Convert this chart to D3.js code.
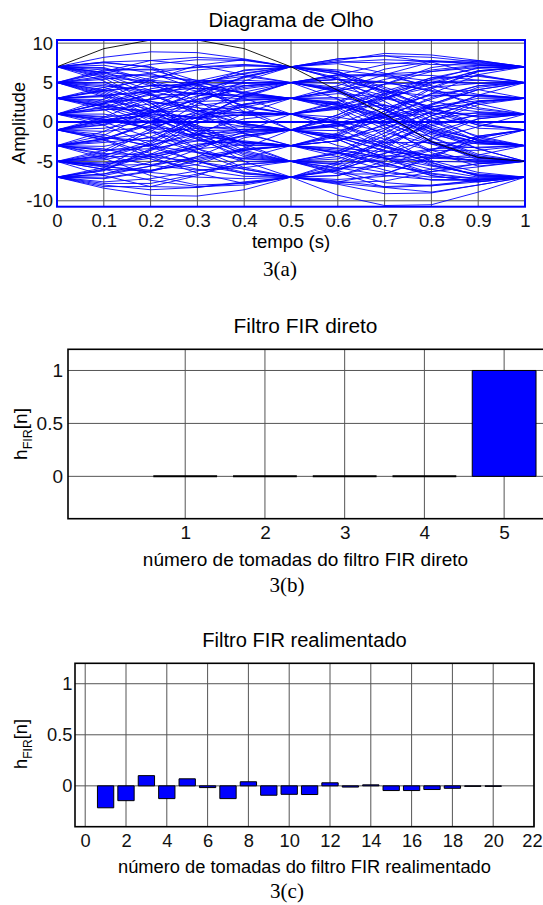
<!DOCTYPE html>
<html>
	<head>
		<title>Diagrama de Olho e Filtros FIR</title>
		<meta http-equiv='Content-Type' content='text/html;charset=utf-8'/>
		<style>
		body {
			margin: 0;
			background: #ffffff;
		}
		svg {
			display: block;
			font-family: 'Liberation Sans', Arial, sans-serif;
			color: #111111;
		}
		.grid line {
			stroke: #555555;
			stroke-width: 1px;
		}
		.caption {
			font-family: 'Liberation Serif', 'Times New Roman', serif;
		}
		</style>
	</head>

	<body>
	<script src='https://d3js.org/d3.v7.min.js'></script>

	<script>
	'use strict';

	// 3(a) eye diagram: amplitude sampled at t = 0, 0.1, ..., 1 s
	const eyeTimes = [0, 0.1, 0.2, 0.3, 0.4, 0.5, 0.6, 0.7, 0.8, 0.9, 1];
	const eyeTraces = [
		[7, 5.8, 3.5, 1.0, -1.5, -3, -2.4, -0.8, 1.2, 3.4, 5],
		[5, 5.6, 5.2, 3.9, 2.1, 1, -0.2, -2.6, -4.9, -6.4, -7],
		[-7, -6.1, -3.4, 0.2, 3.3, 5, 5.9, 6.1, 6.4, 6.9, 7],
		[3, 1.6, -1.2, -3.9, -6.0, -7, -7.8, -8.3, -8.1, -7.6, -7],
		[-1, -0.4, 1.1, 2.9, 4.2, 5, 4.1, 1.5, -1.3, -3.4, -5],
		[1, 1.9, 3.6, 5.2, 6.5, 7, 6.4, 4.2, 1.6, -0.4, -1],
		[-5, -5.4, -4.1, -1.6, 1.1, 3, 3.6, 3.1, 2.0, 1.3, 1],
		[-3, -4.2, -5.5, -6.1, -5.8, -5, -3.8, -1.0, 2.1, 4.1, 5],
		[7, 7.6, 7.8, 7.2, 6.0, 5, 3.9, 1.6, -1.0, -2.6, -3],
		[-7, -8.0, -8.6, -8.3, -7.6, -7, -5.8, -3.1, 0.0, 2.2, 3],
		[5, 3.6, 0.8, -2.2, -4.4, -5, -5.3, -4.8, -3.5, -1.8, -1],
		[-5, -3.9, -1.2, 2.3, 5.2, 7, 7.6, 7.5, 7.3, 7.2, 7],
		[1, 0.3, -0.8, -1.7, -2.5, -3, -3.6, -4.5, -5.6, -6.6, -7],
		[3, 3.9, 4.6, 4.6, 3.7, 3, 1.6, -1.8, -5.1, -6.9, -7],
		[-1, -2.2, -4.0, -5.5, -6.5, -7, -6.1, -3.4, 0.1, 2.6, 3],
		[7, 6.0, 4.0, 2.4, 1.3, 1, 1.7, 3.1, 4.4, 4.9, 5],
		[-3, -1.7, 1.1, 3.9, 5.7, 7, 8.0, 8.4, 8.2, 7.6, 7],
		[5, 4.4, 2.4, -0.6, -3.1, -5, -5.9, -5.6, -4.2, -2.5, -1],
		[-7, -6.6, -5.1, -3.0, -1.7, -1, 0.4, 2.8, 5.0, 6.5, 7],
		[1, 1.8, 2.9, 3.6, 3.4, 3, 3.1, 2.2, 0.1, -1.8, -3],
		[-5, -6.0, -7.4, -8.2, -8.0, -7, -5.1, -2.2, 0.4, 1.2, 1],
		[3, 2.2, 1.0, 0.6, 0.9, 1, -0.3, -2.9, -5.4, -6.8, -7],
		[-1, 0.1, 1.8, 3.3, 4.6, 5, 5.7, 6.0, 5.9, 5.3, 5],
		[7, 6.8, 5.0, 1.9, -1.4, -3, -3.9, -4.6, -5.0, -5.1, -5],
		[-3, -3.6, -3.4, -2.4, -1.4, -1, -0.2, 0.6, 1.1, 1.1, 1],
		[5, 6.2, 7.3, 7.9, 7.8, 7, 5.6, 2.6, -0.4, -2.4, -3],
		[-7, -7.2, -6.3, -4.8, -3.5, -3, -1.9, 0.6, 3.1, 4.6, 5],
		[1, -0.4, -2.9, -5.0, -6.6, -7, -7.3, -6.9, -6.0, -5.3, -5],
		[-5, -4.3, -2.4, 0.3, 2.3, 3, 2.9, 0.6, -2.4, -4.4, -5],
		[3, 4.1, 5.6, 6.6, 7.1, 7, 7.8, 8.7, 8.5, 7.8, 7],
		[-1, -2.3, -4.4, -6.5, -7.8, -7, -7.5, -8.2, -8.0, -7.4, -7],
		[-7, -8.4, -9.3, -9.4, -8.6, -7, -6.2, -4.0, -1.3, 0.4, 1],
		[7, 8.2, 8.9, 8.8, 8.0, 7, 5.4, 1.8, -2.0, -4.3, -5],
		[5, 3.4, 0.6, -1.6, -2.6, -3, -2.4, -0.3, 2.2, 4.4, 5],
		[-3, -2.1, -0.4, 0.9, 1.2, 1, 2.0, 3.9, 5.6, 6.8, 7],
		[1, 2.4, 4.2, 5.2, 5.3, 5, 4.0, 1.6, -0.7, -2.3, -3],
		[-5, -4.2, -2.9, -1.6, -0.9, -1, -1.9, -3.7, -5.5, -6.7, -7],
		[3, 1.9, -0.2, -2.2, -3.0, -3, -3.9, -5.6, -6.3, -5.7, -5],
		[7, 6.3, 5.8, 5.3, 5.0, 5, 5.4, 5.1, 3.9, 2.3, 1],
		[-1, -0.3, 1.8, 4.6, 6.6, 7, 6.1, 3.5, 0.1, -2.4, -3],
		[5, 4.8, 3.4, 1.4, -0.2, -1, -0.2, 1.8, 3.4, 3.4, 3],
		[-7, -6.0, -4.2, -2.8, -2.4, -3, -4.4, -6.1, -7.4, -7.4, -7],
		[3, 2.8, 1.6, -0.9, -3.6, -5, -4.7, -2.8, -0.5, 0.9, 1],
		[-3, -3.1, -1.9, 0.6, 3.1, 5, 6.0, 5.8, 4.6, 3.5, 3],
		[1, 0.2, 0.1, 0.5, 0.9, 1, 2.4, 4.8, 6.9, 7.7, 7],
		[-5, -5.7, -6.1, -5.4, -3.3, -1, 0.9, 3.4, 5.4, 5.9, 5],
		[7, 6.6, 6.6, 6.9, 7.2, 7, 6.1, 3.7, 0.9, -0.8, -1],
		[-1, -1.9, -3.0, -3.9, -4.6, -5, -6.4, -8.3, -8.9, -8.0, -7],
		[5, 5.0, 3.6, 1.4, -0.4, -1, -2.2, -4.6, -6.5, -7.2, -7],
		[-3, -4.6, -6.8, -8.0, -7.8, -7, -5.4, -2.4, 0.8, 2.6, 3],
		[1, 2.9, 5.3, 7.2, 7.9, 7, 5.4, 3.9, 3.3, 3.4, 3],
		[-5, -5.5, -5.4, -4.6, -3.6, -3, -3.3, -3.8, -4.2, -4.6, -5],
		[3, 4.4, 5.3, 4.8, 3.0, 1, -0.9, -3.2, -5.2, -6.8, -7],
		[-7, -6.2, -3.6, -0.2, 2.2, 3, 2.1, -0.3, -2.8, -4.5, -5],
		[7, 5.6, 2.4, -1.4, -4.2, -5, -4.4, -2.6, -0.3, 0.9, 1],
		[-1, 0.2, 0.9, 0.6, -0.2, -1, -1.1, 0.2, 2.3, 4.1, 5],
		[5, 6.4, 7.8, 8.2, 7.9, 7, 7.6, 7.9, 7.7, 7.3, 7],
		[-3, -1.2, 1.5, 3.8, 4.9, 5, 3.8, 0.9, -2.5, -4.8, -5],
		[1, 0.7, -1.0, -3.4, -5.0, -5, -4.0, -1.4, 1.4, 3.3, 3],
		[-5, -6.8, -8.2, -8.3, -7.7, -7, -7.9, -9.1, -9.0, -8.0, -7],
		[5, 4.0, 1.6, -1.8, -5.0, -7, -7.6, -6.6, -4.4, -2.0, -1],
		[-3, -2.6, -2.0, -1.5, -1.2, -1, 0.9, 3.6, 5.6, 5.8, 5],
		[3, 3.4, 3.9, 4.9, 6.1, 7, 6.3, 3.9, 1.6, 0.6, 1],
		[-1, -0.8, 0.1, 1.1, 1.2, 1, -0.2, -2.2, -3.6, -3.6, -3],
		[7, 7.2, 6.2, 4.2, 2.0, 1, 0.1, -1.3, -2.8, -3.3, -3],
		[-7, -7.8, -7.8, -6.6, -5.3, -5, -4.0, -1.8, 0.8, 2.6, 3],
		[1, 1.5, 2.3, 2.6, 2.8, 3, 4.1, 6.0, 7.6, 7.8, 7],
		[-5, -3.6, -0.9, 1.4, 1.9, 1, 0.6, -0.3, -1.9, -4.1, -5],
		[-5, -5.6, -6.4, -7.0, -7.2, -7, -9.3, -10.6, -10.5, -8.9, -7],
		[7, 6.2, 4.6, 3.4, 2.9, 3, 2.2, 0.4, -1.6, -2.8, -3],
		[-7, -6.8, -5.6, -3.5, -1.2, 1, 2.6, 4.8, 6.4, 7.1, 7],
		[5, 4.1, 2.6, 1.4, 0.8, 1, 1.8, 2.1, 1.2, -0.4, -1],
		[-3, -3.4, -4.7, -6.0, -6.9, -7, -6.0, -4.4, -3.4, -3.2, -3],
		[3, 2.4, 0.6, -1.6, -3.8, -5, -6.2, -7.7, -8.1, -7.4, -7],
		[-1, -0.1, 1.2, 2.1, 2.7, 3, 4.6, 6.7, 7.7, 7.4, 7],
		[1, 1.0, 0.0, -2.0, -4.0, -5, -5.1, -4.0, -2.2, -0.6, 1],
		[-5, -4.6, -2.8, 0.3, 3.4, 5, 5.4, 4.0, 1.8, -0.2, -1],
		[7, 7.5, 7.0, 5.2, 3.5, 3, 2.4, 0.9, -0.9, -2.2, -3],
		[-3, -2.2, 0.0, 2.6, 4.6, 5, 4.2, 2.0, -0.9, -3.4, -5],
		[5, 5.8, 6.0, 5.1, 3.6, 3, 3.9, 5.4, 6.6, 7.2, 7],
		[-7, -7.1, -6.2, -4.4, -2.0, -1, -1.6, -3.1, -4.3, -4.9, -5],
		[1, 0.0, -2.0, -3.8, -4.7, -5, -5.8, -6.8, -7.3, -7.3, -7],
		[3, 3.2, 2.6, 1.8, 1.1, 1, 1.9, 3.6, 5.0, 5.3, 5],
		[-1, -1.2, -0.6, 0.6, 1.9, 3, 2.5, 0.6, -1.4, -2.6, -3],
		[-5, -5.2, -4.4, -3.4, -2.9, -3, -2.4, -0.4, 1.9, 3.0, 3],
		[7, 6.9, 5.3, 2.6, -0.3, -1, -0.6, 0.8, 2.9, 4.6, 5],
		[-3, -3.6, -3.0, -1.3, 0.4, 1, 1.6, 3.0, 4.8, 6.5, 7],
		[5, 4.6, 4.0, 3.6, 3.2, 3, 1.8, -0.9, -3.6, -5.2, -5],
		[-7, -5.8, -2.6, 1.2, 3.8, 5, 4.9, 3.3, 0.6, -2.0, -3],
		[1, 2.3, 3.4, 3.6, 3.2, 3, 2.3, 0.1, -2.6, -4.6, -5],
		[3, 4.0, 4.6, 4.8, 4.9, 5, 4.4, 3.0, 1.6, 0.7, 1],
		[-1, -2.0, -2.4, -2.4, -2.7, -3, -4.0, -5.3, -6.6, -7.3, -7],
		[-5, -6.0, -6.2, -5.0, -3.6, -3, -1.7, 1.0, 4.2, 6.4, 7],
		[7, 7.6, 6.9, 4.6, 1.3, -1, -2.0, -3.6, -4.6, -4.8, -5],
		[-3, -2.4, 0.0, 3.2, 5.8, 7, 6.4, 4.4, 2.6, 1.6, 1],
		[1, 1.6, 1.5, 0.4, -0.6, -1, -0.5, 1.1, 3.6, 6.0, 7],
		[5, 3.8, 1.3, -1.2, -2.6, -3, -3.8, -5.2, -6.8, -7.6, -7],
		[-1, 0.6, 3.0, 5.0, 5.8, 5, 2.9, -0.6, -3.9, -5.6, -5],
		[3, 2.0, 0.4, -0.6, -1.0, -1, -0.4, 0.8, 1.9, 2.7, 3],
		[-7, -7.6, -7.2, -6.2, -5.4, -5, -5.4, -6.4, -7.0, -7.1, -7],
		[7, 6.3, 4.8, 4.2, 4.6, 5, 6.0, 7.3, 7.8, 7.5, 7],
		[-5, -4.8, -3.6, -2.0, -1.2, -1, -0.4, 0.6, 1.6, 2.4, 3],
		[1, 0.4, -0.7, -1.1, -1.0, -1, -2.2, -4.6, -6.8, -7.6, -7],
		[-3, -4.0, -4.2, -3.2, -1.8, -1, -1.7, -3.2, -4.4, -5.0, -5],
		[3, 3.3, 3.8, 4.9, 6.2, 7, 8.0, 8.4, 7.6, 6.0, 5],
		[5, 6.6, 6.7, 4.8, 1.8, -1, -3.0, -4.3, -4.6, -4.2, -3],
		[-1, -1.6, -3.2, -5.0, -6.4, -7, -7.7, -7.5, -6.3, -5.3, -5],
		[-7, -8.2, -8.2, -6.8, -4.6, -3, -1.4, 1.4, 3.6, 4.1, 3],
		[5, 5.4, 6.2, 7.0, 7.3, 7, 6.6, 5.9, 5.2, 4.9, 5],
		[-5, -4.4, -4.4, -5.0, -6.0, -7, -6.8, -5.4, -3.6, -1.8, -1],
		[1, 2.4, 3.8, 4.3, 3.8, 3, 2.1, 0.6, -1.2, -2.6, -3],
		[-3, -2.2, -1.4, -0.8, -0.6, -1, -2.0, -2.6, -2.6, -2.7, -3],
		[3, 2.6, 2.8, 3.9, 5.6, 7, 7.4, 6.2, 4.3, 1.8, 1],
		[-1, 0.3, 0.8, -0.4, -2.8, -5, -6.6, -6.6, -4.6, -2.0, -1],
		[7, 5.2, 2.0, -0.8, -2.6, -3, -1.6, 1.4, 4.4, 6.4, 7],
		[-7, -6.6, -5.6, -4.4, -3.4, -3, -3.4, -4.6, -6.0, -7.0, -7],
		[5, 3.2, 0.0, -3.4, -5.8, -7, -6.8, -5.0, -2.0, 0.4, 1],
		[-5, -5.4, -4.6, -3.0, -1.7, -1, 0.6, 3.0, 5.4, 6.9, 7],
		[1, 0.6, 1.2, 2.8, 4.4, 5, 5.4, 5.0, 4.0, 3.2, 3],
		[3, 2.0, 1.3, 1.4, 2.2, 3, 4.0, 4.8, 5.0, 4.9, 5]
	];
	const eyeBlackTrace = [7, 9.3, 10.4, 10.4, 9.3, 7, 4.0, 1.0, -2.5, -4.5, -5];
	const eyeXTicks = [0, 0.1, 0.2, 0.3, 0.4, 0.5, 0.6, 0.7, 0.8, 0.9, 1];
	const eyeXTickLabels = ['0', '0.1', '0.2', '0.3', '0.4', '0.5', '0.6', '0.7', '0.8', '0.9', '1'];
	const eyeYTicks = [-10, -5, 0, 5, 10];

	// 3(b) direct FIR taps
	const firTaps = [1, 2, 3, 4, 5];
	const firCoefs = [0, 0, 0, 0, 1];
	const firXTicks = [1, 2, 3, 4, 5];

	// 3(c) feedback FIR taps
	const fbTaps = [1, 2, 3, 4, 5, 6, 7, 8, 9, 10, 11, 12, 13, 14, 15, 16, 17, 18, 19, 20];
	const fbCoefs = [-0.215, -0.145, 0.10, -0.125, 0.069, -0.017, -0.125, 0.04, -0.092, -0.083,
		-0.085, 0.03, -0.012, 0.01, -0.046, -0.046, -0.036, -0.024, -0.005, -0.005];
	const fbXTicks = [0, 2, 4, 6, 8, 10, 12, 14, 16, 18, 20, 22];

	const hYTicks = [0, 0.5, 1];

	const svg = d3.select('body').append('svg')
		.attr('width', 543)
		.attr('height', 905);

	// one panel: grid, tick labels, title, axis labels, caption
	function panel (p) {
		const g = svg.append('g');
		const x = d3.scaleLinear().domain(p.xDomain).range([p.left, p.right]);
		const y = d3.scaleLinear().domain(p.yDomain).range([p.bottom, p.top]);

		const grid = g.append('g').attr('class', 'grid');
		grid.selectAll('line.v')
			.data(p.xTicks)
			.join('line')
			.attr('class', 'v')
			.attr('x1', d => x(d)).attr('x2', d => x(d))
			.attr('y1', p.top).attr('y2', p.bottom);
		grid.selectAll('line.h')
			.data(p.yTicks)
			.join('line')
			.attr('class', 'h')
			.attr('x1', p.left).attr('x2', p.right)
			.attr('y1', d => y(d)).attr('y2', d => y(d));

		const xa = g.append('g')
			.attr('transform', 'translate(0,' + p.bottom + ')')
			.call(d3.axisBottom(x)
				.tickValues(p.xTicks)
				.tickFormat((d, i) => p.xLabels ? p.xLabels[i] : String(d))
				.tickSize(0)
				.tickPadding(p.xPad));
		const ya = g.append('g')
			.attr('transform', 'translate(' + p.left + ',0)')
			.call(d3.axisLeft(y)
				.tickValues(p.yTicks)
				.tickFormat(d => String(d))
				.tickSize(0)
				.tickPadding(p.yPad));
		[xa, ya].forEach(a => {
			a.attr('font-family', null).attr('font-size', p.fs);
			a.select('.domain').remove();
		});
		// keep the last x label inside the page
		xa.selectAll('text').filter(d => x(d) > 525).attr('dx', -2);

		const cx = (p.left + Math.min(p.right, 543)) / 2;
		g.append('text')
			.attr('x', cx)
			.attr('y', p.titleY)
			.attr('text-anchor', 'middle')
			.attr('font-size', p.fs * 1.1)
			.text(p.title);

		g.append('text')
			.attr('x', cx)
			.attr('y', p.xLabelY)
			.attr('text-anchor', 'middle')
			.attr('font-size', p.fs)
			.text(p.xLabel);

		const yl = g.append('text')
			.attr('transform', 'rotate(-90)')
			.attr('x', -p.yLabelCy)
			.attr('y', p.yLabelX)
			.attr('text-anchor', 'middle')
			.attr('font-size', p.fs);
		if (p.yLabel) {
			yl.text(p.yLabel);
		} else {
			yl.append('tspan').text('h');
			yl.append('tspan').attr('font-size', p.fs * 0.66).attr('dy', 5).text('FIR');
			yl.append('tspan').attr('dy', -5).text('[n]');
		}

		g.append('text')
			.attr('class', 'caption')
			.attr('x', p.captionX)
			.attr('y', p.captionY)
			.attr('text-anchor', 'middle')
			.attr('font-size', 21)
			.text(p.caption);

		return {g: g, x: x, y: y, p: p};
	}

	function frame (c, color, w) {
		c.g.append('rect')
			.attr('x', c.p.left)
			.attr('y', c.p.top)
			.attr('width', c.p.right - c.p.left)
			.attr('height', c.p.bottom - c.p.top)
			.attr('fill', 'none')
			.attr('stroke', color)
			.attr('stroke-width', w);
	}

	function bars (c, taps, coefs) {
		const half = 0.4;
		c.g.append('g').selectAll('path')
			.data(taps)
			.join('path')
			.attr('d', (d, i) => {
				const x0 = c.x(d - half), x1 = c.x(d + half);
				const y0 = c.y(0), y1 = c.y(coefs[i]);
				return 'M' + x0 + ',' + y0 + 'H' + x1 + 'V' + y1 + 'H' + x0 + 'Z';
			})
			.attr('fill', '#0000ff')
			.attr('stroke', '#000000')
			.attr('stroke-width', (d, i) => coefs[i] === 0 ? 2 : 1);
	}

	// 3(a)
	const eye = panel({
		left: 57, right: 525, top: 40, bottom: 206.7,
		xDomain: [0, 1], yDomain: [-10.75, 10.4],
		xTicks: eyeXTicks, xLabels: eyeXTickLabels, yTicks: eyeYTicks,
		fs: 18.5, xPad: 7, yPad: 4,
		title: 'Diagrama de Olho', titleY: 27,
		xLabel: 'tempo (s)', xLabelY: 248,
		yLabel: 'Amplitude', yLabelX: 25, yLabelCy: 123,
		caption: '3(a)', captionX: 280, captionY: 276
	});

	const line = d3.line()
		.x((d, i) => eye.x(eyeTimes[i]))
		.y(d => eye.y(d));

	eye.g.append('line')
		.attr('x1', eye.p.left).attr('x2', eye.p.right)
		.attr('y1', eye.y(0)).attr('y2', eye.y(0))
		.attr('stroke', '#0000ff')
		.attr('stroke-width', 2);

	eye.g.append('g').selectAll('path')
		.data(eyeTraces)
		.join('path')
		.attr('d', line)
		.attr('fill', 'none')
		.attr('stroke', '#0000ff')
		.attr('stroke-width', 0.9);

	eye.g.append('path')
		.attr('d', line(eyeBlackTrace))
		.attr('fill', 'none')
		.attr('stroke', '#000000')
		.attr('stroke-width', 0.9);

	frame(eye, '#0000ff', 2);

	// 3(b)
	const fir = panel({
		left: 68, right: 544, top: 349.3, bottom: 518.7,
		xDomain: [-0.47, 5.5], yDomain: [-0.4, 1.2],
		xTicks: firXTicks, yTicks: hYTicks,
		fs: 19, xPad: 7, yPad: 5,
		title: 'Filtro FIR direto', titleY: 333,
		xLabel: 'número de tomadas do filtro FIR direto', xLabelY: 566,
		yLabel: null, yLabelX: 27, yLabelCy: 434,
		caption: '3(b)', captionX: 287, captionY: 592
	});
	bars(fir, firTaps, firCoefs);
	frame(fir, '#000000', 1.6);

	// 3(c)
	const fb = panel({
		left: 75, right: 534, top: 663.3, bottom: 826.7,
		xDomain: [-0.5, 22], yDomain: [-0.4, 1.2],
		xTicks: fbXTicks, yTicks: hYTicks,
		fs: 18.3, xPad: 7, yPad: 2.5,
		title: 'Filtro FIR realimentado', titleY: 647,
		xLabel: 'número de tomadas do filtro FIR realimentado', xLabelY: 873,
		yLabel: null, yLabelX: 27, yLabelCy: 744,
		caption: '3(c)', captionX: 287, captionY: 898
	});
	bars(fb, fbTaps, fbCoefs);
	frame(fb, '#000000', 1.6);
	</script>
</body>
</html>
